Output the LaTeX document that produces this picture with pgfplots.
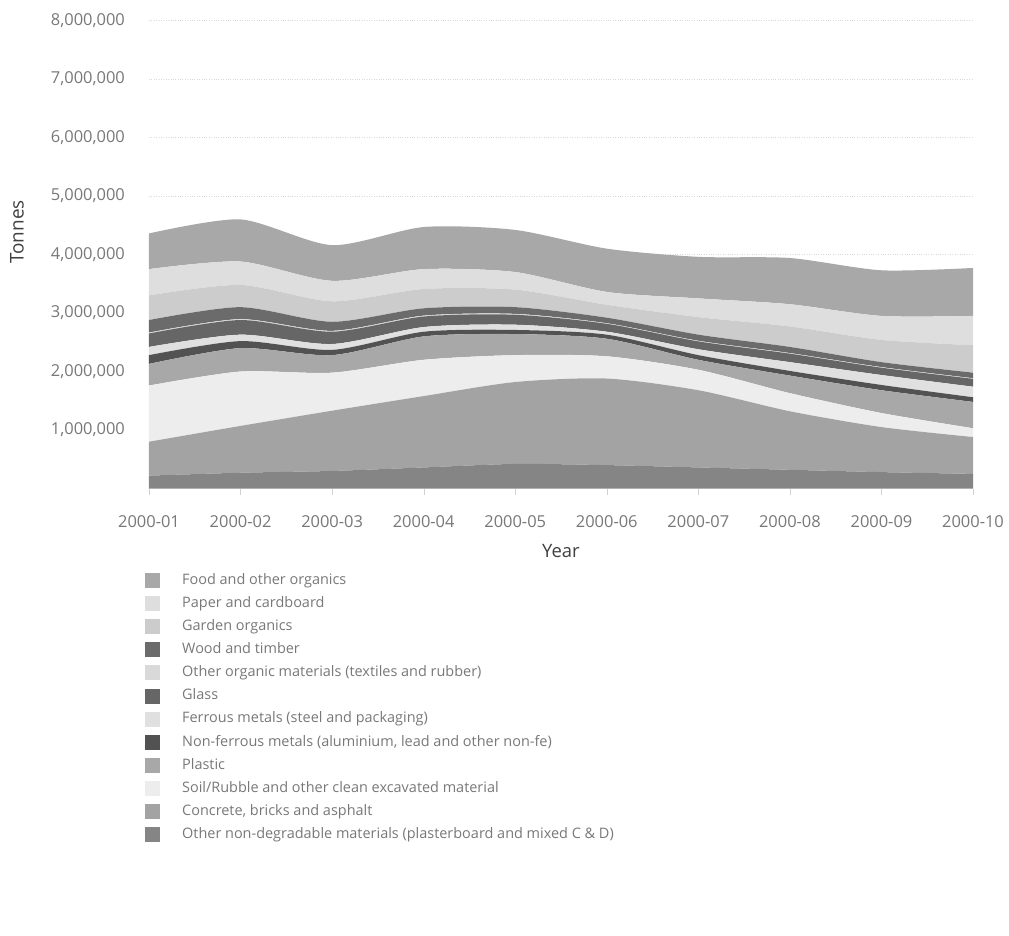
\documentclass[border=0pt]{standalone}
\usepackage{fontspec}
\setmainfont{Open Sans}
\usepackage{pgfplots}
\usepackage{pgfplotstable}
\pgfplotsset{compat=1.18}
\definecolor{cFood}{gray}{0.66}
\definecolor{cPaper}{gray}{0.87}
\definecolor{cGarden}{gray}{0.80}
\definecolor{cWood}{gray}{0.42}
\definecolor{cOorg}{gray}{0.85}
\definecolor{cGlass}{gray}{0.40}
\definecolor{cFerr}{gray}{0.88}
\definecolor{cNonfe}{gray}{0.32}
\definecolor{cPlast}{gray}{0.66}
\definecolor{cSoil}{gray}{0.93}
\definecolor{cConc}{gray}{0.64}
\definecolor{cOnd}{gray}{0.52}
\definecolor{txt}{gray}{0.47}
\definecolor{lbl}{gray}{0.25}

\pgfplotstableread{
x ond conc soil plast nonfe ferr glass oorg wood gard paper food
0 220000 580000 960000 370000 150000 140000 230000 15000 215000 420000 450000 610000
1 270000 800000 930000 400000 120000 110000 250000 15000 205000 380000 400000 720000
2 300000 1030000 650000 300000 90000 100000 210000 15000 155000 350000 350000 610000
3 360000 1220000 620000 400000 80000 80000 180000 15000 125000 330000 340000 720000
4 420000 1400000 460000 360000 70000 90000 170000 15000 115000 300000 300000 720000
5 400000 1480000 380000 300000 70000 50000 135000 10000 95000 220000 220000 740000
6 360000 1320000 350000 170000 80000 100000 135000 10000 105000 300000 320000 710000
7 320000 1000000 310000 300000 80000 150000 145000 10000 105000 350000 380000 790000
8 280000 770000 240000 390000 90000 170000 125000 10000 85000 380000 410000 780000
9 250000 630000 150000 450000 80000 180000 135000 10000 95000 470000 500000 820000
}\datatable

\begin{document}
\begin{tikzpicture}[x=1bp,y=1bp]
\begin{axis}[
  scale only axis, width=824bp, height=468bp,
  xmin=0, xmax=9, ymin=0, ymax=8000000,
  stack plots=y,
  axis lines*=left, axis line style={draw=none},
  xtick={0,1,2,3,4,5,6,7,8,9},
  xticklabels={2000-01,2000-02,2000-03,2000-04,2000-05,2000-06,2000-07,2000-08,2000-09,2000-10},
  ytick={1000000,2000000,3000000,4000000,5000000,6000000,7000000,8000000},
  scaled y ticks=false,
  /pgf/number format/assume math mode=true,
  yticklabel style={/pgf/number format/fixed, /pgf/number format/1000 sep={,}, font=\fontsize{16.5}{18}\selectfont, text=txt, inner sep=0pt, xshift=-18bp},
  xticklabel style={font=\fontsize{16.5}{18}\selectfont, text=txt, inner sep=0pt, yshift=-21bp},
  tick align=outside, major tick length=6bp,
  xtick style={draw=gray!35},
  ytick style={draw=none},
  ymajorgrids, grid style={dotted, gray!30, line width=0.6pt},
  xlabel={Year}, ylabel={Tonnes},
  xlabel style={at={(axis description cs:0.5,-0.1325)}, anchor=center, font=\fontsize{18.5}{20}\selectfont, text=lbl},
  ylabel style={at={(axis description cs:-0.1602,0.548)}, anchor=center, font=\fontsize{19}{21}\selectfont, text=lbl},
  reverse legend,
  legend cell align=left,
  legend image code/.code={\fill[#1] (0bp,-7.5bp) rectangle (15bp,7.5bp);},
  legend style={at={(axis description cs:-0.0085,-0.176)}, anchor=north west, draw=none, fill=none,
    font=\fontsize{14.5}{16}\selectfont, text=txt, row sep=8.1bp,
    nodes={inner sep=0pt, text height=11bp, text depth=3.5bp},
    /tikz/every odd column/.append style={column sep=22bp}},
]
\addplot[fill=cOnd, draw=none, smooth, tension=0.45] table[x=x,y=ond]{\datatable} \closedcycle;
\addlegendentry{Other non-degradable materials (plasterboard and mixed C \& D)}
\addplot[fill=cConc, draw=none, smooth, tension=0.45] table[x=x,y=conc]{\datatable} \closedcycle;
\addlegendentry{Concrete, bricks and asphalt}
\addplot[fill=cSoil, draw=none, smooth, tension=0.45] table[x=x,y=soil]{\datatable} \closedcycle;
\addlegendentry{Soil/Rubble and other clean excavated material}
\addplot[fill=cPlast, draw=none, smooth, tension=0.45] table[x=x,y=plast]{\datatable} \closedcycle;
\addlegendentry{Plastic}
\addplot[fill=cNonfe, draw=none, smooth, tension=0.45] table[x=x,y=nonfe]{\datatable} \closedcycle;
\addlegendentry{Non-ferrous metals (aluminium, lead and other non-fe)}
\addplot[fill=cFerr, draw=none, smooth, tension=0.45] table[x=x,y=ferr]{\datatable} \closedcycle;
\addlegendentry{Ferrous metals (steel and packaging)}
\addplot[fill=cGlass, draw=none, smooth, tension=0.45] table[x=x,y=glass]{\datatable} \closedcycle;
\addlegendentry{Glass}
\addplot[fill=cOorg, draw=none, smooth, tension=0.45] table[x=x,y=oorg]{\datatable} \closedcycle;
\addlegendentry{Other organic materials (textiles and rubber)}
\addplot[fill=cWood, draw=none, smooth, tension=0.45] table[x=x,y=wood]{\datatable} \closedcycle;
\addlegendentry{Wood and timber}
\addplot[fill=cGarden, draw=none, smooth, tension=0.45] table[x=x,y=gard]{\datatable} \closedcycle;
\addlegendentry{Garden organics}
\addplot[fill=cPaper, draw=none, smooth, tension=0.45] table[x=x,y=paper]{\datatable} \closedcycle;
\addlegendentry{Paper and cardboard}
\addplot[fill=cFood, draw=none, smooth, tension=0.45] table[x=x,y=food]{\datatable} \closedcycle;
\addlegendentry{Food and other organics}
\end{axis}
\path (-149,488.5) rectangle (860,-447.5);
\end{tikzpicture}
\end{document}
